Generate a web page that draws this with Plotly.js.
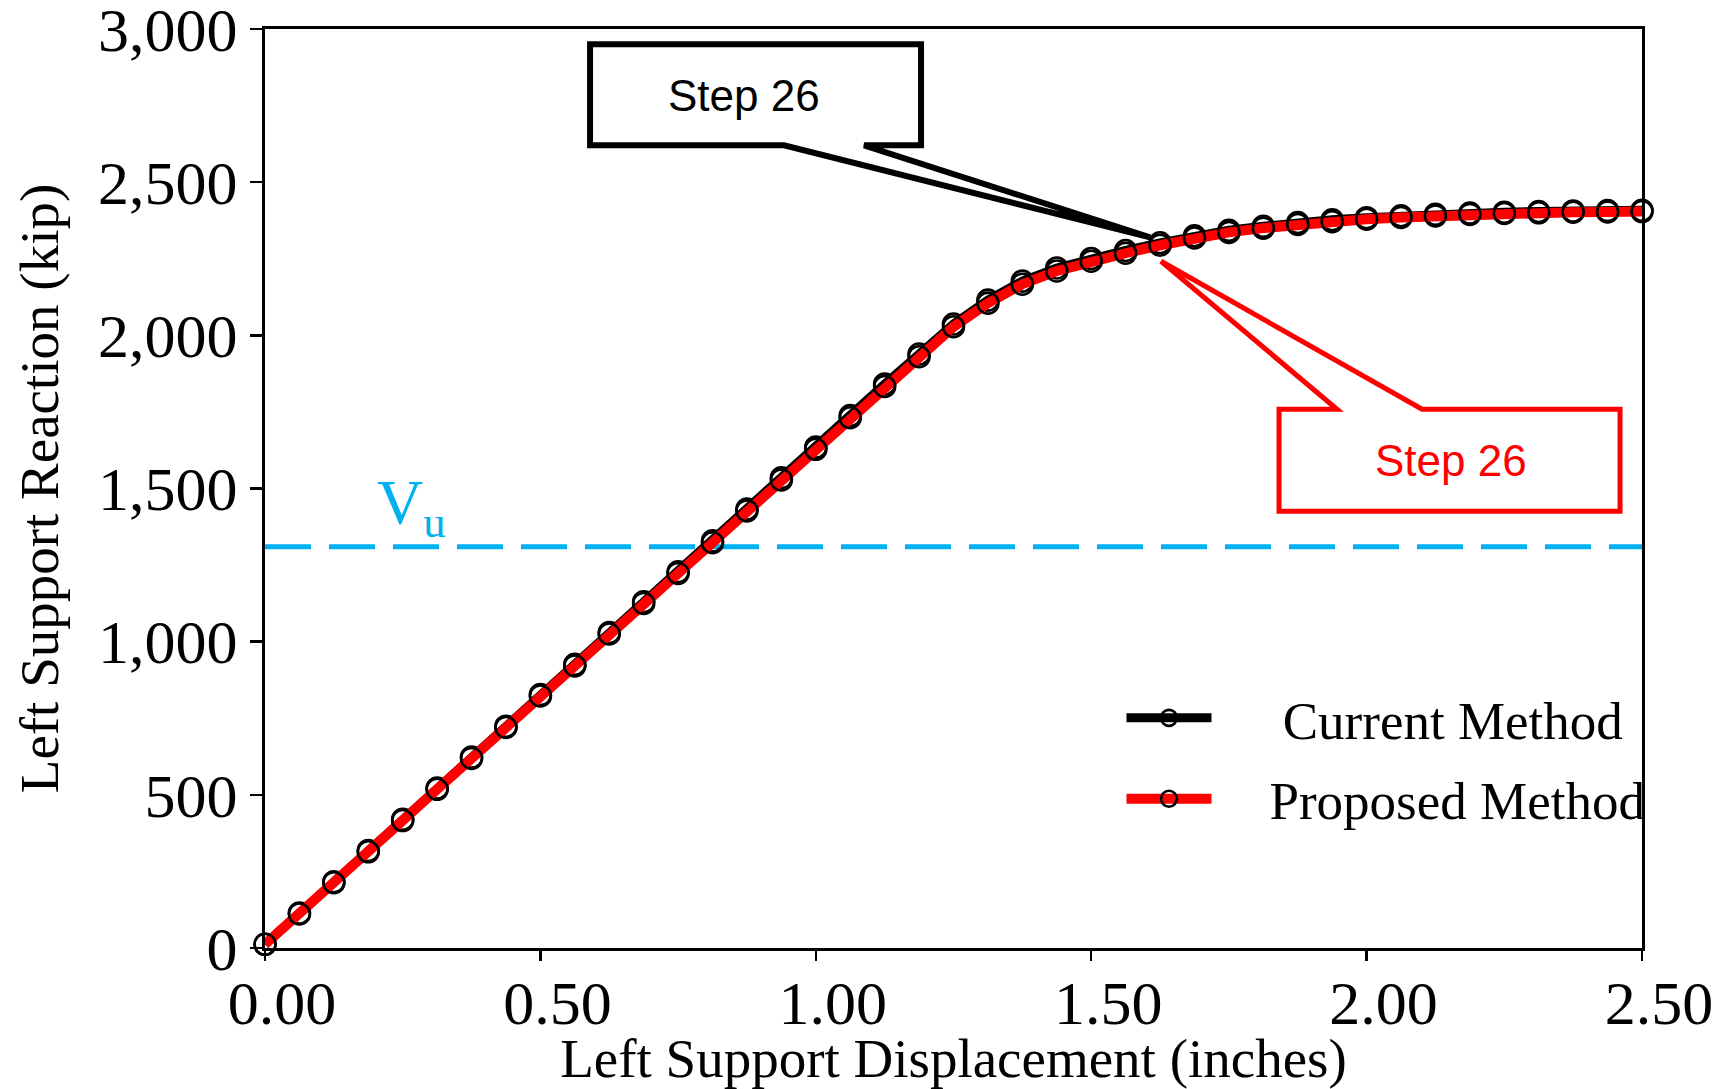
<!DOCTYPE html>
<html>
<head>
<meta charset="utf-8">
<script src="https://cdn.plot.ly/plotly-3.0.1.min.js"></script>
<style>html,body{margin:0;padding:0;background:#fff;}#chart{width:1726px;height:1089px;}</style>
</head>
<body>
<div id="chart"></div>
<script>
// ---- data ----
const displacement = [0, 0.0625, 0.125, 0.1875, 0.25, 0.3125, 0.375, 0.4375, 0.5, 0.5625,
  0.625, 0.6875, 0.75, 0.8125, 0.875, 0.9375, 1.0, 1.0625, 1.125, 1.1875,
  1.25, 1.3125, 1.375, 1.4375, 1.5, 1.5625, 1.625, 1.6875, 1.75, 1.8125,
  1.875, 1.9375, 2.0, 2.0625, 2.125, 2.1875, 2.25, 2.3125, 2.375, 2.4375, 2.5];
const currentMethod = [12, 114, 216, 318, 420, 522, 623, 724, 827, 926,
  1030, 1130, 1228, 1329, 1433, 1535, 1635, 1738, 1841, 1939,
  2037, 2115, 2177, 2220, 2251, 2277, 2302, 2325, 2343, 2356,
  2368, 2377, 2384, 2390, 2395, 2399, 2402, 2404, 2406, 2407, 2408];
const proposedMethod = [12, 111, 213, 314, 416, 518, 619, 720, 823, 921,
  1025, 1125, 1223, 1323, 1427, 1528, 1628, 1731, 1833, 1930,
  2028, 2105, 2167, 2210, 2242, 2268, 2294, 2318, 2336, 2350,
  2362, 2371, 2379, 2385, 2390, 2395, 2398, 2400, 2402, 2403, 2404];
const seriesNames = ['Current Method', 'Proposed Method'];
const xTickVals = [0, 0.5, 1.0, 1.5, 2.0, 2.5];
const xTickText = ['0.00', '0.50', '1.00', '1.50', '2.00', '2.50'];
const yTickVals = [0, 500, 1000, 1500, 2000, 2500, 3000];
const yTickText = ['0', '500', '1,000', '1,500', '2,000', '2,500', '3,000'];
const vuValue = 1310;
const stepIndex = 26;
const stepLabel = 'Step 26';

const serif = '"Times New Roman", "Liberation Serif", serif';
const sans = 'Arial, "Liberation Sans", sans-serif';
const NB = '\u00a0';

const markerStyle = {symbol: 'circle-open', size: 21, color: '#000', line: {width: 2.6, color: '#000'}};

const traces = [
  {x: displacement, y: currentMethod, name: NB.repeat(5) + seriesNames[0], mode: 'lines+markers',
   line: {color: '#000', width: 9}, marker: markerStyle, cliponaxis: false,
   legendgroup: 'a'},
  {x: displacement, y: proposedMethod, name: NB.repeat(4) + seriesNames[1], mode: 'lines+markers',
   line: {color: '#ff0000', width: 10}, marker: markerStyle, cliponaxis: false,
   legendgroup: 'b'}
];

const sx = displacement[stepIndex];
const syP = proposedMethod[stepIndex];

const shapes = [
  {type: 'line', xref: 'paper', x0: 0, x1: 1, yref: 'y', y0: vuValue, y1: vuValue,
   line: {color: '#00b0f0', width: 5, dash: '46px,18px'}, layer: 'below'},
  // black callout (current method)
  {type: 'path', xref: 'x', yref: 'y', xsizemode: 'pixel', ysizemode: 'pixel',
   xanchor: sx, yanchor: syP,
   path: 'M-570,100 L-376,100 L-10,8 L-296,100 L-239,100 L-239,201 L-570,201 Z',
   line: {color: '#000', width: 6}, fillcolor: '#fff', layer: 'above'},
  // red callout (proposed method)
  {type: 'path', xref: 'x', yref: 'y', xsizemode: 'pixel', ysizemode: 'pixel',
   xanchor: sx, yanchor: syP,
   path: 'M119,-164 L177,-164 L1,-16 L262,-164 L460,-164 L460,-266 L119,-266 Z',
   line: {color: '#ff0000', width: 5}, fillcolor: '#fff', layer: 'above'}
];

const annotations = [
  {x: sx, y: syP, xref: 'x', yref: 'y', xshift: -416, yshift: 150, showarrow: false,
   text: stepLabel, font: {family: sans, size: 44, color: '#000'}},
  {x: sx, y: syP, xref: 'x', yref: 'y', xshift: 291, yshift: -215, showarrow: false,
   text: stepLabel, font: {family: sans, size: 44, color: '#ff0000'}},
  {x: 0.2, y: vuValue, xref: 'x', yref: 'y', xanchor: 'left', yanchor: 'bottom', yshift: -2,
   showarrow: false, text: 'V<sub>u</sub>', font: {family: serif, size: 64, color: '#00b0f0'}}
];

const axisCommon = {
  showline: true, linecolor: '#000', linewidth: 3, mirror: true,
  showgrid: false, zeroline: false, ticks: 'outside', tickcolor: '#000', tickwidth: 2.5,
  tickfont: {family: serif, size: 62, color: '#000'}, tickmode: 'array',
  ticklabeloverflow: 'allow'
};

const layout = {
  width: 1726, height: 1089,
  margin: {l: 265, r: 84, t: 29, b: 141, autoexpand: false},
  paper_bgcolor: '#fff', plot_bgcolor: '#fff',
  font: {family: serif, color: '#000'},
  xaxis: Object.assign({}, axisCommon, {
    range: [0, 2.5], tickvals: xTickVals, ticktext: xTickText, ticklen: 10,
    ticklabelshift: 17, ticklabelstandoff: -11,
    title: {text: 'Left Support Displacement (inches)', font: {family: serif, size: 55, color: '#000'}, standoff: 28}
  }),
  yaxis: Object.assign({}, axisCommon, {
    range: [0, 3000], tickvals: yTickVals, ticktext: yTickText, ticklen: 12,
    ticklabelstandoff: 0,
    title: {text: 'Left Support Reaction (kip)', font: {family: serif, size: 55, color: '#000'}, standoff: 22}
  }),
  showlegend: true,
  legend: {x: 0.622, y: 0.295, xanchor: 'left', yanchor: 'top', bgcolor: 'rgba(0,0,0,0)',
    font: {family: serif, size: 53, color: '#000'}, itemwidth: 85,
    traceorder: 'grouped', tracegroupgap: 9},
  shapes: shapes,
  annotations: annotations
};

Plotly.newPlot('chart', traces, layout, {staticPlot: true, displayModeBar: false});
</script>
</body>
</html>
